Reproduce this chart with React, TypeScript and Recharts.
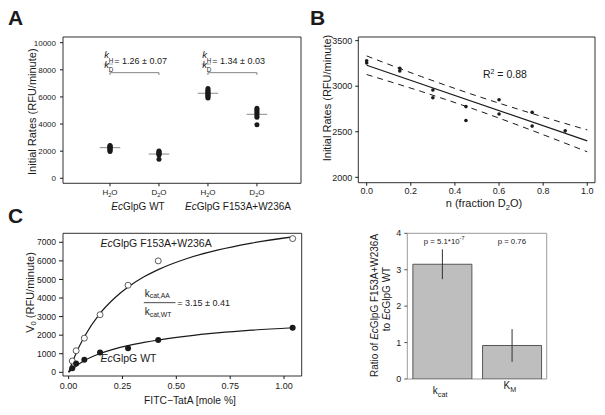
import React from 'react';
import {
  ComposedChart, Scatter, Line, Bar, ErrorBar, XAxis, YAxis,
  ReferenceLine, ReferenceArea, ReferenceDot,
} from 'recharts';

const FONT = '"Liberation Sans", Arial, Helvetica, sans-serif';
const INK = '#1a1a1a';

// ---------------- Panel A data ----------------
const aTickPos = [1, 2, 3, 4];
const aTickLabels = ['H2O', 'D2O', 'H2O', 'D2O'];
const aGroupLabels = ['WT', 'F153A+W236A'];
const aWtH2O = [1980, 2050, 2120, 2180, 2240, 2290, 2330, 2380, 2420];
const aWtD2O = [1400, 1720, 1780, 1840, 1900, 1960, 2020];
const aAaH2O = [5920, 6000, 6080, 6150, 6220, 6290, 6360, 6440, 6520, 6620];
const aAaD2O = [3950, 4500, 4620, 4740, 4860, 4960, 5060, 5160];
const aMedians = [2260, 1790, 6270, 4720];
const aRatioText = ['= 1.26 ± 0.07', '= 1.34 ± 0.03'];
const aBracketY = 7790;
const aYTicks = [0, 2000, 4000, 6000, 8000, 10000];

// ---------------- Panel B data ----------------
const bX = [0, 0, 0.15, 0.15, 0.3, 0.3, 0.45, 0.45, 0.6, 0.6, 0.75, 0.75, 0.9];
const bY = [3280, 3255, 3196, 3167, 2959, 2874, 2776, 2623, 2852, 2695, 2713, 2562, 2510];
const bFitX = [0, 1];
const bFitY = [3230, 2400];
const bBandX = [0, 0.25, 0.5, 0.75, 1];
const bUpper = [3332, 3104, 2893, 2700, 2520];
const bLower = [3128, 2940, 2737, 2514, 2280];
const bXTicks = [0, 0.2, 0.4, 0.6, 0.8, 1.0];
const bYTicks = [2000, 2500, 3000, 3500];
const bR2 = '0.88';

// ---------------- Panel C data ----------------
const cX = [0.017, 0.035, 0.073, 0.146, 0.276, 0.416, 1.04];
const cMut = [610, 1160, 1840, 3100, 4690, 6000, 7200];
const cWt = [215, 470, 670, 1065, 1300, 1738, 2398];
const cFitX = [0, 0.017, 0.035, 0.073, 0.146, 0.21, 0.276, 0.35, 0.416, 0.55, 0.69, 0.85, 1.04];
const cMutFit = [0, 530, 1030, 1910, 3170, 3960, 4590, 5140, 5530, 6130, 6580, 6960, 7290];
const cWtFit = [0, 165, 330, 630, 1010, 1250, 1440, 1610, 1740, 1950, 2120, 2270, 2400];
const cXTicks = [0, 0.25, 0.5, 0.75, 1.0];
const cYTicks = [0, 1000, 2000, 3000, 4000, 5000, 6000, 7000];
const cRatioText = '= 3.15 ± 0.41';

// ---------------- Panel D data ----------------
const dCats = ['kcat', 'KM'];
const dCatMain = ['k', 'K'];
const dCatSub = ['cat', 'M'];
const dRatio = [3.15, 0.92];
const dErr = [0.41, 0.45];
const dPBase = ['p = 5.1*10', 'p = 0.76'];
const dPExp = ['-7', ''];
const dYTicks = [0, 1, 2, 3, 4];

// ---------------- derived tables ----------------
const aSeries = [aWtH2O, aWtD2O, aAaH2O, aAaD2O];
const aPoints = aSeries.flatMap((vals, i) => vals.map((y) => ({ x: aTickPos[i], y })));
const bPoints = bX.map((x, i) => ({ x, y: bY[i] }));
const bFit = bFitX.map((x, i) => ({ x, y: bFitY[i] }));
const bUp = bBandX.map((x, i) => ({ x, y: bUpper[i] }));
const bLo = bBandX.map((x, i) => ({ x, y: bLower[i] }));
const cMutPts = cX.map((x, i) => ({ x, y: cMut[i] }));
const cWtPts = cX.map((x, i) => ({ x, y: cWt[i] }));
const cMutLine = cFitX.map((x, i) => ({ x, y: cMutFit[i] }));
const cWtLine = cFitX.map((x, i) => ({ x, y: cWtFit[i] }));
const dData = dCats.map((cat, i) => ({ cat, v: dRatio[i], err: dErr[i] }));

const A_DOM_X: [number, number] = [0.04, 4.9];
const A_DOM_Y: [number, number] = [-368, 10420];
const B_DOM_X: [number, number] = [-0.038, 1.035];
const B_DOM_Y: [number, number] = [1941, 3540];
const C_DOM_X: [number, number] = [-0.026, 1.082];
const C_DOM_Y: [number, number] = [-199, 7485];
const D_DOM_Y: [number, number] = [0, 4];

const W = 605;
const H = 415;
const abs: React.CSSProperties = { position: 'absolute', left: 0, top: 0 };

const dotShape = (r: number, fill: string, stroke = 'none', sw = 0) => (p: any) => (
  <circle cx={p.cx} cy={p.cy} r={r} fill={fill} stroke={stroke} strokeWidth={sw} />
);

const tickStyle = (fs: number) => ({ fontSize: fs, fill: INK, fontFamily: FONT });

const aTick = (p: any) => {
  const i = aTickPos.indexOf(p.payload.value);
  const s = aTickLabels[i] || '';
  return (
    <text x={p.x} y={p.y} dy={5.8} textAnchor="middle" fontSize={8} fill={INK} fontFamily={FONT}>
      {s[0]}
      <tspan fontSize={5.6} dy={1.8}>{s[1]}</tspan>
      <tspan dy={-1.8}>{s[2]}</tspan>
    </text>
  );
};

const dTick = (p: any) => {
  const i = dCats.indexOf(p.payload.value);
  const base = i === 0 ? 14.5 : 9.5;
  return (
    <text x={p.x - 2} y={p.y + base} textAnchor="middle" fontSize={10} fill={INK} fontFamily={FONT}>
      {dCatMain[i]}
      <tspan fontSize={7.2} dy={3}>{dCatSub[i]}</tspan>
    </text>
  );
};

const ratioShape = (text: string) => (p: any) => {
  const x = p.cx;
  const y = p.cy;
  return (
    <g fontFamily={FONT} fill={INK}>
      <text x={x - 5.8} y={y - 14.2} fontSize={9.5} fontStyle="italic">k</text>
      <text x={x - 1.2} y={y - 9.8} fontSize={6.3}>H</text>
      <line x1={x - 6.5} x2={x + 3} y1={y - 8.6} y2={y - 8.6} stroke="#555" strokeWidth={0.5} />
      <text x={x - 5.8} y={y - 4.4} fontSize={9.5} fontStyle="italic">k</text>
      <text x={x - 1.2} y={y - 0.3} fontSize={6.3}>D</text>
      <text x={x + 4.3} y={y - 8.7} fontSize={9}>{text}</text>
    </g>
  );
};

const r2Shape = (p: any) => (
  <text x={p.cx} y={p.cy} fontSize={10.5} fill={INK} fontFamily={FONT}>
    R<tspan fontSize={7} dy={-4}>2</tspan>
    <tspan dy={4}>{' = ' + bR2}</tspan>
  </text>
);

const textShape = (prefix: string, rest: string, fs: number) => (p: any) => (
  <text x={p.cx} y={p.cy} fontSize={fs} fill={INK} fontFamily={FONT}>
    <tspan fontStyle="italic">{prefix}</tspan>
    {rest}
  </text>
);

const kcatShape = (p: any) => {
  const x = p.cx;
  const y = p.cy;
  return (
    <g fontFamily={FONT} fill={INK}>
      <text x={x + 1} y={y - 6} fontSize={10}>k<tspan fontSize={6.8} dy={1.6}>cat,AA</tspan></text>
      <line x1={x} x2={x + 31.7} y1={y} y2={y} stroke={INK} strokeWidth={0.8} />
      <text x={x + 1} y={y + 12.3} fontSize={10}>k<tspan fontSize={6.8} dy={1.6}>cat,WT</tspan></text>
      <text x={x + 33.5} y={y + 3.2} fontSize={9}>{cRatioText}</text>
    </g>
  );
};

const pShape = (i: number) => (p: any) => (
  <text x={p.cx + (i === 0 ? 2 : 0)} y={p.cy} textAnchor="middle" fontSize={7.8} fill={INK} fontFamily={FONT}>
    {dPBase[i]}
    {dPExp[i] ? <tspan fontSize={5.5} dy={-3.5}>{dPExp[i]}</tspan> : null}
  </text>
);

const noDot = { r: 1, fill: 'none', stroke: 'none' };

function PanelA() {
  return (
    <div style={abs}>
      <ComposedChart width={W} height={H} margin={{ top: 37, right: 304, bottom: 201.7, left: 23 }}>
        <XAxis type="number" dataKey="x" domain={A_DOM_X} ticks={aTickPos} allowDataOverflow interval={0}
          axisLine={false} tickLine={{ stroke: INK }} tickSize={3} tickMargin={3} height={30} tick={aTick} />
        <YAxis type="number" dataKey="y" domain={A_DOM_Y} ticks={aYTicks} allowDataOverflow interval={0}
          axisLine={false} tickLine={{ stroke: INK }} tickSize={3} tickMargin={4} width={40} tick={tickStyle(8)} />
        <ReferenceArea y1={A_DOM_Y[0]} y2={A_DOM_Y[1]} fill="none" stroke={INK} strokeWidth={0.9} ifOverflow="visible" />
        {aMedians.map((m, i) => (
          <ReferenceLine key={'m' + i} segment={[{ x: aTickPos[i] - 0.21, y: m }, { x: aTickPos[i] + 0.21, y: m }]}
            stroke="#8a8a8a" strokeWidth={1} ifOverflow="visible" />
        ))}
        {[0, 2].map((i) => (
          <React.Fragment key={'br' + i}>
            <ReferenceLine segment={[{ x: aTickPos[i], y: aBracketY }, { x: aTickPos[i + 1], y: aBracketY }]}
              stroke="#777" strokeWidth={0.9} ifOverflow="visible" />
            <ReferenceLine segment={[{ x: aTickPos[i], y: aBracketY }, { x: aTickPos[i], y: aBracketY - 170 }]}
              stroke="#777" strokeWidth={0.9} ifOverflow="visible" />
            <ReferenceLine segment={[{ x: aTickPos[i + 1], y: aBracketY }, { x: aTickPos[i + 1], y: aBracketY - 170 }]}
              stroke="#777" strokeWidth={0.9} ifOverflow="visible" />
            <ReferenceDot x={aTickPos[i]} y={aBracketY} {...noDot} ifOverflow="visible" shape={ratioShape(aRatioText[i / 2])} />
          </React.Fragment>
        ))}
        <Scatter data={aPoints} shape={dotShape(2.5, INK)} isAnimationActive={false} />
      </ComposedChart>
    </div>
  );
}

function PanelB() {
  return (
    <div style={abs}>
      <ComposedChart width={W} height={H} margin={{ top: 37, right: 10, bottom: 202.3, left: 318.3 }}>
        <XAxis type="number" dataKey="x" domain={B_DOM_X} ticks={bXTicks} allowDataOverflow interval={0}
          axisLine={false} tickLine={{ stroke: INK }} tickSize={3} tickMargin={2} height={30}
          tick={tickStyle(9)} tickFormatter={(v: number) => v.toFixed(1)} />
        <YAxis type="number" dataKey="y" domain={B_DOM_Y} ticks={bYTicks} allowDataOverflow interval={0}
          axisLine={false} tickLine={{ stroke: INK }} tickSize={3} tickMargin={3} width={40} tick={tickStyle(9)} />
        <ReferenceArea y1={B_DOM_Y[0]} y2={B_DOM_Y[1]} fill="none" stroke={INK} strokeWidth={0.9} ifOverflow="visible" />
        <Line data={bUp} dataKey="y" type="monotone" stroke={INK} strokeWidth={1} strokeDasharray="6 5" dot={false} isAnimationActive={false} />
        <Line data={bLo} dataKey="y" type="monotone" stroke={INK} strokeWidth={1} strokeDasharray="6 5" dot={false} isAnimationActive={false} />
        <Line data={bFit} dataKey="y" type="linear" stroke={INK} strokeWidth={1.2} dot={false} isAnimationActive={false} />
        <Scatter data={bPoints} shape={dotShape(1.8, INK)} isAnimationActive={false} />
        <ReferenceDot x={0.527} y={3090} {...noDot} shape={r2Shape} />
      </ComposedChart>
    </div>
  );
}

function PanelC() {
  return (
    <div style={abs}>
      <ComposedChart width={W} height={H} margin={{ top: 233.3, right: 303.3, bottom: 9, left: 23 }}>
        <XAxis type="number" dataKey="x" domain={C_DOM_X} ticks={cXTicks} allowDataOverflow interval={0}
          axisLine={false} tickLine={{ stroke: INK }} tickSize={3} tickMargin={4} height={30}
          tick={tickStyle(9)} tickFormatter={(v: number) => v.toFixed(2)} />
        <YAxis type="number" dataKey="y" domain={C_DOM_Y} ticks={cYTicks} allowDataOverflow interval={0}
          axisLine={false} tickLine={{ stroke: INK }} tickSize={4} tickMargin={3} width={40} tick={tickStyle(8.6)} />
        <ReferenceArea y1={C_DOM_Y[0]} y2={C_DOM_Y[1]} fill="none" stroke={INK} strokeWidth={0.9} ifOverflow="visible" />
        <Line data={cMutLine} dataKey="y" type="monotone" stroke={INK} strokeWidth={1.2} dot={false} isAnimationActive={false} />
        <Line data={cWtLine} dataKey="y" type="monotone" stroke={INK} strokeWidth={1.2} dot={false} isAnimationActive={false} />
        <Scatter data={cMutPts} shape={dotShape(3, '#fff', '#333', 0.8)} isAnimationActive={false} />
        <Scatter data={cWtPts} shape={dotShape(3, INK)} isAnimationActive={false} />
        <ReferenceDot x={0.148} y={6750} {...noDot} shape={textShape('Ec', 'GlpG F153A+W236A', 10.5)} />
        <ReferenceDot x={0.148} y={530} {...noDot} shape={textShape('Ec', 'GlpG WT', 10.5)} />
        <ReferenceDot x={0.349} y={3750} {...noDot} shape={kcatShape} />
      </ComposedChart>
    </div>
  );
}

function PanelD() {
  return (
    <div style={abs}>
      <ComposedChart width={W} height={H} data={dData} barCategoryGap="8%"
        margin={{ top: 233.3, right: 58.3, bottom: 6, left: 367.3 }}>
        <XAxis dataKey="cat" type="category" axisLine={false} tickLine={false} tickSize={0} tickMargin={0}
          height={30} tick={dTick} interval={0} />
        <YAxis type="number" domain={D_DOM_Y} ticks={dYTicks} allowDataOverflow interval={0}
          axisLine={false} tickLine={{ stroke: '#555' }} tickSize={3} tickMargin={3} width={40} tick={tickStyle(9)} />
        <ReferenceArea y1={D_DOM_Y[0]} y2={D_DOM_Y[1]} fill="none" stroke="#9a9a9a" strokeWidth={1} ifOverflow="visible" />
        <Bar dataKey="v" fill="#bebebe" stroke="#555" strokeWidth={1} isAnimationActive={false}>
          <ErrorBar dataKey="err" width={0} stroke="#333" strokeWidth={1} direction="y" isAnimationActive={false} />
        </Bar>
        {dCats.map((c, i) => (
          <ReferenceDot key={c} x={c} y={3.71} {...noDot} shape={pShape(i)} />
        ))}
      </ComposedChart>
    </div>
  );
}

function Overlay() {
  const t = { fontFamily: FONT, fill: INK } as any;
  return (
    <svg width={W} height={H} style={{ ...abs, pointerEvents: 'none' }}>
      <g {...t}>
        <text x={8} y={25} fontSize={21} fontWeight="bold">A</text>
        <text x={310} y={25} fontSize={21} fontWeight="bold">B</text>
        <text x={8} y={223} fontSize={21} fontWeight="bold">C</text>

        <text transform="translate(32,111.7) rotate(-90)" textAnchor="middle" dominantBaseline="central" fontSize={11}>
          Initial Rates (RFU/minute)
        </text>
        <text x={138} y={210} textAnchor="middle" fontSize={10}>
          <tspan fontStyle="italic">Ec</tspan>GlpG {aGroupLabels[0]}
        </text>
        <text x={238} y={210} textAnchor="middle" fontSize={10}>
          <tspan fontStyle="italic">Ec</tspan>GlpG {aGroupLabels[1]}
        </text>

        <text transform="translate(327,98) rotate(-90)" textAnchor="middle" dominantBaseline="central" fontSize={11}>
          Initial Rates (RFU/minute)
        </text>
        <text x={484} y={207} textAnchor="middle" fontSize={11}>
          n (fraction D<tspan fontSize={7.7} dy={2.5}>2</tspan><tspan dy={-2.5}>O)</tspan>
        </text>

        <text transform="translate(30,292.5) rotate(-90)" textAnchor="middle" dominantBaseline="central" fontSize={11}>
          V<tspan fontSize={7.7} dy={2.5}>0</tspan><tspan dy={-2.5}> (RFU/minute)</tspan>
        </text>
        <text x={190} y={404} textAnchor="middle" fontSize={10.3}>FITC−TatA [mole %]</text>

        <text transform="translate(374,305.5) rotate(-90)" textAnchor="middle" dominantBaseline="central" fontSize={10}>
          Ratio of <tspan fontStyle="italic">Ec</tspan>GlpG F153A+W236A
        </text>
        <text transform="translate(386,299) rotate(-90)" textAnchor="middle" dominantBaseline="central" fontSize={10}>
          to <tspan fontStyle="italic">Ec</tspan>GlpG WT
        </text>
      </g>
    </svg>
  );
}

export default function App() {
  return (
    <div style={{ position: 'absolute', left: 0, top: 0, width: W, height: H, background: '#fff', overflow: 'hidden' }}>
      <PanelA />
      <PanelB />
      <PanelC />
      <PanelD />
      <Overlay />
    </div>
  );
}
